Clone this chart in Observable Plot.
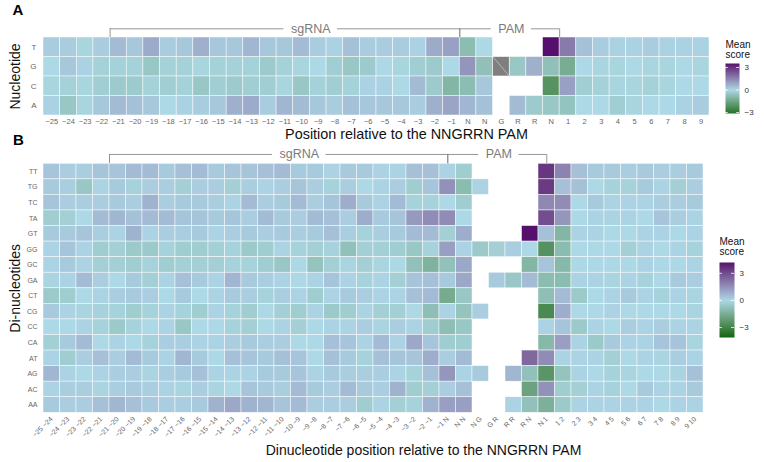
<!DOCTYPE html>
<html><head><meta charset="utf-8">
<script src="https://cdn.jsdelivr.net/npm/d3@7"></script>
<script src="https://cdn.jsdelivr.net/npm/@observablehq/plot@0.6"></script>
<style>
body{margin:0;background:#fff;}
#wrap{position:relative;width:764px;height:462px;overflow:hidden;background:#fff;}
#wrap > svg{position:absolute;overflow:visible;}
</style></head><body><div id="wrap"></div>
<script>
// ---------- data ----------
const ntRows = ["T","G","C","A"];
const posA = ["−25","−24","−23","−22","−21","−20","−19","−18","−17","−16","−15","−14","−13","−12","−11","−10","−9","−8","−7","−6","−5","−4","−3","−2","−1","N","N","G","R","R","N","1","2","3","4","5","6","7","8","9"];
const aT = [0.2,0.2,-0.1,0.2,0.5,0.3,0.8,0.2,0.3,0.7, 0.3,0.3,0.6,0.3,0.3,0.5,0.2,0.1,0.4,0.2, 0.2,0.2,0.1,0.8,1.0,-0.8,0.0,null,null,null, 3.55,1.7,0.4,0.2,0.1,0.1,0.2,0.1,0.1,0.1];
const aG = [0,0.3,0.1,-0.2,-0.2,-0.2,-0.5,-0.2,-0.2,-0.1, -0.2,-0.2,-0.2,-0.4,-0.2,-0.1,0,-0.3,-0.5,-0.4, 0,-0.1,-0.3,-0.4,0,1.2,-0.7,null,-0.5,0.7, -0.7,-1.3,0,-0.1,-0.1,0,-0.1,-0.1,0,-0.1];
const aC = [-0.1,-0.2,-0.1,-0.3,-0.4,-0.4,-0.2,-0.3,-0.2,-0.5, -0.3,-0.4,-0.3,-0.3,-0.1,-0.5,-0.2,-0.3,-0.2,0.1, 0.1,0,0.5,-0.4,-1.0,-0.8,0.3,null,null,null, -2.1,1.0,-0.3,-0.2,-0.1,-0.1,-0.2,-0.1,0,0];
const aA = [0.1,-0.5,-0.1,0.3,0.5,0.4,0.3,0,0.1,0.2, 0.3,0.7,0.8,0.2,0.6,0.5,0.3,0.2,0.4,0.3, 0.3,0.3,0.2,0.7,0.9,0.6,0.4,null,0.5,-0.4, -0.5,-0.6,0,0,-0.3,-0.1,0,0,0.1,0.2];
const naA = [{pos: 27, nt: "G"}]; // reference base (no score)
const rangeA = [-3.13, 3.53];

const diRows = ["TT","TG","TC","TA","GT","GG","GC","GA","CT","CG","CC","CA","AT","AG","AC","AA"];
const posB = ["−25 −24","−24 −23","−23 −22","−22 −21","−21 −20","−20 −19","−19 −18","−18 −17","−17 −16","−16 −15","−15 −14","−14 −13","−13 −12","−12 −11","−11 −10","−10 −9","−9 −8","−8 −7","−7 −6","−6 −5","−5 −4","−4 −3","−3 −2","−2 −1","−1 N","N N","N G","G R","R R","R N","N 1","1 2","2 3","3 4","4 5","5 6","6 7","7 8","8 9","9 10"];
const bTT = [0.4,0.2,0.2,0.4,0.4,0.6,0.6,0.3,0.5,0.6, 0.3,0.4,0.4,0.5,0.6,0.3,0.3,0.1,0.3,0.3, 0.1,0.1,0.5,0.5,0.1,-0.4,null,null,null,null, 3.5,1.8,0.5,0.3,0.3,0.2,0.3,0.2,0.2,0.3];
const bTG = [0.3,0.2,-0.6,0.1,0.3,-0.2,0.2,0.2,-0.3,0.2, 0.2,-0.3,0.2,0.1,0.2,0.4,0.2,-0.2,0.2,0, 0.1,0.2,-0.4,0.4,1.5,-1.0,0.1,null,null,null, 3.4,0.5,0.5,0,-0.2,-0.2,0.3,0.1,-0.3,0.2];
const bTC = [0.4,0.2,0.2,0.2,0.3,0.2,0.8,0.2,0.3,0.3, 0.2,0.1,0.6,0.2,0.3,0.6,0.2,0.4,0.9,0.3, 0.1,0.6,-0.2,-0.2,0,-0.4,null,null,null,null, 1.7,1.6,0,0.3,0.1,0.1,0.1,0.2,0.2,0.3];
const bTA = [-0.4,-0.3,0,0.6,0.7,0.5,0.6,0.6,0.4,0.4, 0.3,0.4,0.2,0.6,0.3,0.2,0.6,0.5,0.2,0.9, 0.3,0.4,1.3,1.6,1.6,0,null,null,null,null, 3.0,1.4,0,0.1,0.1,0.1,0,0.4,0.2,0.1];
const bGT = [0.3,0.3,0.4,0.2,0.1,0.8,0.1,0.2,0.2,0.3, 0.1,0.2,0.3,0.2,0.3,0.2,0.3,0.5,0.2,-0.2, 0.2,0.3,0.6,0.6,-0.3,0.9,null,null,null,4.2, 0.5,-1.2,0.1,0.1,0,0,0.1,0.1,0,0.1];
const bGG = [0.1,0.4,0.1,-0.4,-0.3,-0.5,-0.5,-0.2,-0.4,-0.4, -0.3,-0.2,-0.5,-0.4,0.1,-0.2,-0.3,-0.2,-0.8,-0.3, -0.3,-0.4,-0.6,-0.2,1.2,0.1,-0.5,-0.3,0.2,0, -2.5,-1.0,0,0,0,-0.3,0.1,0,0.1,-0.2];
const bGC = [0.1,0.3,0.1,-0.3,-0.3,-0.4,-0.2,-0.4,-0.3,-0.3, -0.3,-0.2,-0.2,-0.4,-0.6,0,-0.7,-0.3,-0.1,-0.3, -0.1,0,-0.8,-1.3,-0.8,1.0,null,null,null,-1.2, 0.4,-1.1,0,0,0,0,0.1,0,0,0.1];
const bGA = [-0.1,0.1,0.6,0.2,0,0.3,-0.3,0.1,0.5,0.3, 0.1,0.7,0.3,0.2,0.1,0,0.1,0.4,0.1,-0.2, 0.1,-0.3,0.4,0.5,0.3,1.0,null,0.3,-0.6,0.6, -1.0,-1.0,0.1,0.1,-0.1,0.1,-0.2,0,0.3,0.2];
const bCT = [-0.5,-0.4,0,0.1,0.2,0.3,0.2,0,0.3,0, 0.1,0.3,0.2,-0.2,0.2,0.1,-0.4,0.1,0.3,0.2, 0.1,0.1,0.5,0.6,-1.6,-0.6,null,null,null,null, -0.9,0.6,-0.5,0,0.1,0.3,0.1,-0.2,0.1,-0.1];
const bCG = [0.3,0.1,-0.1,-0.2,-0.2,-0.4,-0.2,0.1,-0.2,-0.4, 0.1,-0.2,-0.4,0,-0.3,-0.4,0.1,-0.5,-0.4,0.1, -0.3,-0.3,0,-0.9,0.1,-0.7,0.2,null,null,null, -2.8,0.9,0,0,0.1,0,0,0,0,-0.1];
const bCC = [0,0,0.1,-0.2,-0.5,-0.2,0,0.1,-0.6,0, 0,-0.2,-0.3,0,0.1,-0.3,0,0.1,0.1,0.2, -0.1,0.2,0.1,-0.4,-0.9,-0.6,null,null,null,null, 0.1,0.4,-0.5,0.1,0,0.2,0.1,0.2,0.1,0.1];
const bCA = [-0.3,0.3,0.6,0,0.1,0,-0.2,0.2,0.2,0.1, 0.1,0.2,0.3,0.2,0.2,0,0,0.5,0.4,0.1, 0.6,0.1,1.0,0.4,-0.4,-0.4,null,null,null,null, -1.1,1.2,0.1,-0.5,0.3,0.1,0.1,0.4,0.4,-0.1];
const bAT = [0.1,-0.4,0.2,0.5,0.2,0.6,0.3,0.1,0.7,0.3, 0,0.5,0.4,0.3,0.5,0.4,0,0.5,0.3,-0.2, 0.5,0.4,0.4,0.9,0.2,0.6,null,null,null,2.4, 1.6,0.1,0.1,0.1,-0.3,0,0.1,-0.1,0.2,0.1];
const bAG = [0.7,0.1,0,0.1,0.2,0.2,-0.1,0.2,0.3,0.5, 0.1,0.1,0.1,0.3,0.3,0.4,0.1,0.3,0.2,0.2, 0.2,0.1,-0.2,0.5,1.4,0.1,0.3,null,0.7,-0.8, -2.4,-0.7,0.1,0,-0.2,-0.1,0,0,-0.1,0.5];
const bAC = [0.1,0.2,0.2,-0.1,0.2,0.3,0.2,0.1,-0.1,0.2, -0.1,0,0.4,0.3,0.2,0.6,0.3,0.2,0.6,0.3, 0.2,0.8,-0.4,-0.3,0.2,0.5,null,null,null,-1.9, 1.5,-0.4,-0.3,0.1,-0.2,0,0.3,0.1,0.1,0.3];
const bAA = [0.3,0.2,0.2,0.5,0.7,0.5,0.3,0.2,0.2,0.3, 0.8,1.0,0.8,0.7,0.4,0.6,0.2,0.2,0.2,-0.4, 0.1,-0.3,-0.2,0.8,1.2,1.2,null,null,0.1,-0.8, -1.4,-0.5,0.1,0.1,0.1,0.1,0.1,0,0.1,0.1];
const rangeB = [-4.1, 4.2];

const bracketsA = [{name: "sgRNA", from: 4, to: 25, at: 16.05}, {name: "PAM", from: 25, to: 31, at: 28.1}];
const bracketsB = [{name: "sgRNA", from: 4, to: 24.5, at: 15.5}, {name: "PAM", from: 24.5, to: 30.5, at: 27.6}];
const legendTicks = [-3, 0, 3];

// ---------- styling ----------
const FONT = "'Liberation Sans', Arial, Helvetica, sans-serif";
const LOW = "#006400", MID = "#ADD8E6", HIGH = "#560F6C";
const colorOpts = (m) => ({type: "linear", domain: [-m, 0, m], range: [LOW, MID, HIGH], interpolate: d3.interpolateLab});
const colA = colorOpts(3.55), colB = colorOpts(4.2);
const minus = d => d < 0 ? "−" + (-d) : String(d);
const LABEL_SIZE = 12.5, LABEL_GAP = 7;

const gridA = [aT, aG, aC, aA];
const cellsA = gridA.flatMap((row, r) => row.map((v, i) => ({i, r, v}))).filter(d => d.v !== null);
const naCellsA = naA.map(d => ({i: d.pos, r: ntRows.indexOf(d.nt)}));
const gridB = [bTT,bTG,bTC,bTA,bGT,bGG,bGC,bGA,bCT,bCG,bCC,bCA,bAT,bAG,bAC,bAA];
const cellsB = gridB.flatMap((row, r) => row.map((v, i) => ({i, r, v}))).filter(d => d.v !== null);

const ctx = document.createElement("canvas").getContext("2d");
ctx.font = `${LABEL_SIZE}px 'Liberation Sans', Arial, sans-serif`;
function bracketMarks(brackets, yLine, colPx) {
  const half = b => (ctx.measureText(b.name).width / 2 + LABEL_GAP) / colPx;
  const segs = brackets.flatMap(b => [{x1: b.from, x2: b.at - half(b)}, {x1: b.at + half(b), x2: b.to}]);
  return [
    Plot.ruleY(segs, {y: () => yLine, x1: "x1", x2: "x2", stroke: "#8a8a8a", strokeWidth: 0.9}),
    Plot.ruleX(brackets.flatMap(b => [b.from, b.to]), {x: d => d, y1: () => yLine, y2: () => 0, stroke: "#8a8a8a", strokeWidth: 0.9}),
    Plot.text(brackets, {x: "at", y: () => yLine, text: "name", fill: "#7a7a7a", fontSize: LABEL_SIZE, lineAnchor: "middle"})
  ];
}

const wrap = document.getElementById("wrap");

// ---------- panel A ----------
const mA = {l: 43, r: 55};
const plotA = Plot.plot({
  width: 764, height: 140, marginLeft: mA.l, marginRight: mA.r, marginTop: 37, marginBottom: 25,
  x: {domain: [0, 40], axis: null},
  y: {domain: [0, 4], reverse: true, axis: null},
  color: colA,
  style: {fontFamily: FONT, background: "none", overflow: "visible"},
  marks: [
    Plot.rect(cellsA, {x1: "i", x2: d => d.i + 1, y1: "r", y2: d => d.r + 1, fill: "v", stroke: "white", strokeWidth: 0.6, strokeOpacity: 0.8}),
    Plot.rect(naCellsA, {x1: "i", x2: d => d.i + 1, y1: "r", y2: d => d.r + 1, fill: "#7f7f7f", stroke: "white", strokeWidth: 0.6}),
    Plot.link(naCellsA, {x1: "i", y1: "r", x2: d => d.i + 1, y2: d => d.r + 1, stroke: "#c4c4c4", strokeWidth: 0.8}),
    Plot.axisX(posA.map((_, i) => i + 0.5), {tickSize: 0, tickPadding: 3.5, tickFormat: d => posA[Math.floor(d)], fontSize: 7.5, fill: "#666", label: null}),
    Plot.axisY(ntRows.map((_, r) => r + 0.5), {tickSize: 0, tickPadding: 7, tickFormat: d => ntRows[Math.floor(d)], fontSize: 8, fill: "#666", label: null}),
    ...bracketMarks(bracketsA, -0.445, (764 - mA.l - mA.r) / 40),
    Plot.text(["A"], {frameAnchor: "top-left", dx: -25.5, dy: -27, textAnchor: "middle", lineAnchor: "middle", fontSize: 15, fontWeight: "bold", fill: "#000"}),
    Plot.text(["Nucleotide"], {frameAnchor: "left", rotate: -90, dx: -27.5, textAnchor: "middle", lineAnchor: "middle", fontSize: 14, fill: "#111"}),
    Plot.text(["Position relative to the NNGRRN PAM"], {frameAnchor: "bottom", dx: 30, dy: 18.5, lineAnchor: "middle", fontSize: 14.4, fill: "#111"})
  ]
});
plotA.style.left = "0px"; plotA.style.top = "0px";
wrap.appendChild(plotA);

// ---------- panel B ----------
const mB = {l: 43, r: 61};
const plotB = Plot.plot({
  width: 764, height: 334, marginLeft: mB.l, marginRight: mB.r, marginTop: 35.3, marginBottom: 49.7,
  x: {domain: [0, 40], axis: null},
  y: {domain: [0, 16], reverse: true, axis: null},
  color: colB,
  style: {fontFamily: FONT, background: "none", overflow: "visible"},
  marks: [
    Plot.rect(cellsB, {x1: "i", x2: d => d.i + 1, y1: "r", y2: d => d.r + 1, fill: "v", stroke: "white", strokeWidth: 0.6, strokeOpacity: 0.8}),
    Plot.axisX(posB.map((_, i) => i + 0.5), {tickRotate: -45, tickSize: 0, tickPadding: 5, tickFormat: d => posB[Math.floor(d)], fontSize: 7, fill: "#666", label: null}),
    Plot.axisY(diRows.map((_, r) => r + 0.5), {tickSize: 0, tickPadding: 6, tickFormat: d => diRows[Math.floor(d)], fontSize: 7, fill: "#666", label: null}),
    ...bracketMarks(bracketsB, -0.6, (764 - mB.l - mB.r) / 40),
    Plot.text(["B"], {frameAnchor: "top-left", dx: -25, dy: -23.3, textAnchor: "middle", lineAnchor: "middle", fontSize: 15, fontWeight: "bold", fill: "#000"}),
    Plot.text(["Di-nucleotides"], {frameAnchor: "left", rotate: -90, dx: -27.5, textAnchor: "middle", lineAnchor: "middle", fontSize: 14, fill: "#111"}),
    Plot.text(["Dinucleotide position relative to the NNGRRN PAM"], {frameAnchor: "bottom", dx: 50, dy: 38, lineAnchor: "middle", fontSize: 14, fill: "#111"})
  ]
});
plotB.style.left = "0px"; plotB.style.top = "128px";
wrap.appendChild(plotB);

// ---------- legends ----------
function legend(col, range, o) {
  const [lo, hi] = range;
  const svg = Plot.plot({
    width: o.w, height: o.h, marginLeft: o.ml, marginRight: o.mr, marginTop: o.mt, marginBottom: o.mb,
    x: {domain: [0, 1], axis: null},
    y: {domain: [lo, hi], axis: null},
    color: col,
    style: {fontFamily: FONT, background: "none", overflow: "visible"},
    marks: [
      Plot.raster({x1: 0, x2: 1, y1: lo, y2: hi, fill: (x, y) => y, pixelSize: 0.5}),
      Plot.ruleY(legendTicks, {y: d => d, x1: () => 0, x2: () => 0.2, stroke: "white", strokeWidth: 0.8}),
      Plot.ruleY(legendTicks, {y: d => d, x1: () => 0.8, x2: () => 1, stroke: "white", strokeWidth: 0.8}),
      Plot.axisY(legendTicks, {anchor: "right", tickSize: 0, tickPadding: 5, tickFormat: minus, fontSize: 8, fill: "#333", label: null}),
      Plot.text(["Mean\nscore"], {frameAnchor: "top-left", textAnchor: "start", lineAnchor: "top", dy: o.tdy, fontSize: 10, lineHeight: 1.0, fill: "#111"})
    ]
  });
  svg.style.left = o.left + "px"; svg.style.top = o.top + "px";
  return svg;
}
wrap.appendChild(legend(colA, rangeA, {left: 700, top: 30, w: 64, h: 95, ml: 25, mr: 25, mt: 33, mb: 12, tdy: -23}));
wrap.appendChild(legend(colB, rangeB, {left: 700, top: 235, w: 64, h: 110, ml: 19, mr: 30, mt: 27, mb: 8, tdy: -25}));
</script></body></html>
